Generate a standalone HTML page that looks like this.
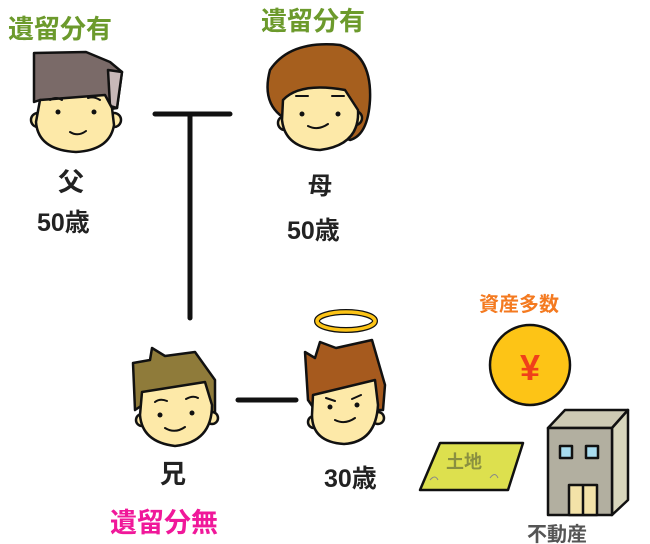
<!DOCTYPE html>
<html><head><meta charset="utf-8"><style>
html,body{margin:0;padding:0;background:#fff;width:650px;height:544px;overflow:hidden}
text{font-family:"Liberation Sans","Noto Sans CJK JP",sans-serif;font-weight:bold}
</style></head><body>
<svg width="650" height="544" viewBox="0 0 650 544" xmlns="http://www.w3.org/2000/svg">
<!-- labels -->
<text x="8" y="38" font-size="26" fill="#6c9a2c">遺留分有</text>
<text x="261" y="30" font-size="26" fill="#6c9a2c">遺留分有</text>
<text x="110" y="532" font-size="27" fill="#f0189a">遺留分無</text>
<text x="479" y="311" font-size="20" fill="#f47a20">資産多数</text>
<text x="58" y="191" font-size="26" fill="#222">父</text>
<text x="37" y="231" font-size="25" fill="#222">50歳</text>
<text x="308" y="194" font-size="24" fill="#222">母</text>
<text x="287" y="239" font-size="25" fill="#222">50歳</text>
<text x="160" y="483" font-size="26" fill="#222">兄</text>
<text x="324" y="487" font-size="25" fill="#222">30歳</text>
<text x="527" y="541" font-size="20" fill="#555">不動産</text>
<!-- lines -->
<path d="M155 114H230M190 114V318M238 400H296" stroke="#111" stroke-width="5" stroke-linecap="round" fill="none"/>
<g stroke="#111" stroke-width="2.5" stroke-linejoin="round">
<!-- father -->
<path d="M34 53L86 52L110 62L122 72L117 108L105 110L40 100L34 102Z" fill="#7a6a68"/>
<path d="M108 70L122 72L117 108L110 106Z" fill="#c8b8b8"/>
<circle cx="38" cy="120" r="7" fill="#fde9a8"/>
<circle cx="114" cy="120" r="7" fill="#fde9a8"/>
<path d="M40 100L105 95L112 108L114 125Q110 150 76 152Q38 150 36 122Z" fill="#fde9a8"/>
<!-- mother -->
<path d="M270 70Q290 40 340 45Q372 55 370 100Q368 135 350 140L280 115Q262 100 270 70Z" fill="#a65f1e"/>
<circle cx="285" cy="123" r="7" fill="#fde9a8"/>
<circle cx="355" cy="118" r="7" fill="#fde9a8"/>
<path d="M283 100Q300 82 345 90L358 110Q360 145 320 150Q285 148 282 120Z" fill="#fde9a8"/>
<!-- brother -->
<path d="M133 363L150 360L152 348L165 356L195 352L215 380L215 418L150 400L135 410Z" fill="#8f7b3a"/>
<circle cx="142" cy="420" r="6" fill="#fde9a8"/>
<circle cx="212" cy="418" r="6" fill="#fde9a8"/>
<path d="M142 392L205 382L212 405Q212 442 175 446Q142 442 140 415Z" fill="#fde9a8"/>
<!-- deceased -->
<ellipse cx="346" cy="321" rx="29" ry="9" fill="none" stroke="#111" stroke-width="6"/>
<ellipse cx="346" cy="321" rx="29" ry="9" fill="none" stroke="#fdc416" stroke-width="3.5"/>
<path d="M305 352L315 358L320 342L336 348L372 340L385 385L383 410L315 410L308 400Z" fill="#a65a1e"/>
<circle cx="314" cy="422" r="6" fill="#fde9a8"/>
<circle cx="378" cy="418" r="6" fill="#fde9a8"/>
<path d="M313 395L375 380L378 405Q376 442 344 444Q312 442 312 415Z" fill="#fde9a8"/>
<!-- coin -->
<circle cx="530" cy="365" r="40" fill="#fdc416"/>
<!-- land -->
<path d="M420 490L440 443L523 443L508 490Z" fill="#dde04e"/>
<!-- building -->
<path d="M548 428L565 410L628 410L612 428Z" fill="#cdcab4"/>
<path d="M612 428L628 410L628 500L612 515Z" fill="#d8d6bc"/>
<rect x="548" y="428" width="64" height="87" fill="#b2afa0"/>
<rect x="560" y="446" width="12" height="12" fill="#a8dcef"/>
<rect x="586" y="446" width="12" height="12" fill="#a8dcef"/>
<rect x="569" y="485" width="28" height="30" fill="#f3e2a8"/>
<path d="M583 485V515" fill="none"/>
</g>
<!-- faces -->
<g fill="#111">
<circle cx="58" cy="112" r="2.5"/><circle cx="94" cy="112" r="2.5"/>
<circle cx="302" cy="114" r="2.5"/><circle cx="338" cy="114" r="2.5"/>
<circle cx="160" cy="415" r="2.5"/><circle cx="192" cy="413" r="2.5"/>
<circle cx="330" cy="407" r="2.5"/><circle cx="357" cy="405" r="2.5"/>
</g>
<g stroke="#111" stroke-width="2" fill="none" stroke-linecap="round">
<path d="M70 132Q78 137 86 131M308 126Q318 131 328 124M165 428Q175 434 185 427M335 420Q345 425 355 418"/>
<path d="M50 100Q56 96 62 100M88 98Q94 96 100 100M296 96H308M332 96H344"/>
<path d="M155 402Q160 398 167 401M186 399Q193 395 198 398M326 398L335 401M352 399L361 395"/>
</g>
<text x="530" y="380" font-size="36" fill="#f0401a" text-anchor="middle">¥</text>
<text x="446" y="468" font-size="18" fill="#8a9040">土地</text>
<path d="M430 480q5-6 8 0M490 478q5-7 8 0" stroke="#888" fill="none"/>
</svg>
</body></html>
